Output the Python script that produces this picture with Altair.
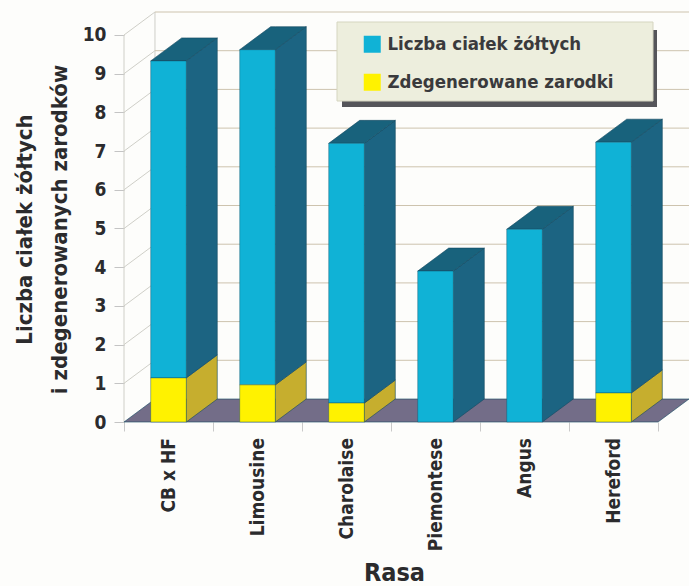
import altair as alt
import pandas as pd

# Breeds and the two stacked series (corpora lutea, degenerated embryos)
breeds = ["CB x HF", "Limousine", "Charolaise", "Piemontese", "Angus", "Hereford"]
totals = [9.33, 9.62, 7.2, 3.9, 4.98, 7.23]
degenerated = [1.14, 0.96, 0.49, 0.0, 0.0, 0.75]
series_names = ["Liczba ciałek żółtych", "Zdegenerowane zarodki"]
y_ticks = list(range(0, 11))

FONT = "DejaVu Sans Condensed, Roboto, sans-serif"
INK = "#2b2b2d"
CYAN, YELLOW = "#10b2d6", "#fff200"
SIDE_CYAN, SIDE_YELLOW = "#1c6482", "#c6ae2e"
TOP = "#18627c"
FLOOR = "#736d88"

# Oblique depth of the pseudo-3D box, in data units of each axis
DEPTH_X, DEPTH_Y = 0.348, 0.594
BAR_LEFT, BAR_WIDTH = 0.30, 0.40
X_MAX = len(breeds) + DEPTH_X
Y_MAX = 10 + DEPTH_Y

x_scale = alt.Scale(domain=[0, X_MAX], nice=False, zero=False)
y_scale = alt.Scale(domain=[0, Y_MAX], nice=False, zero=False)

x_axis = alt.Axis(
    values=list(range(len(breeds) + 1)), labels=False, grid=False, domain=False,
    tickSize=9, tickColor="#c9c9c9", titleFont=FONT, titleFontSize=25, titleFontWeight="bold",
    titleColor=INK, titleX=270, titleY=138)
y_axis = alt.Axis(
    values=y_ticks, grid=False, domain=False, tickSize=10, tickColor="#c4c4c4",
    labelFont=FONT, labelFontSize=19, labelFontWeight="bold", labelColor=INK, labelPadding=8,
    titleFont=FONT, titleFontSize=22, titleFontWeight="bold", titleColor=INK,
    titleLineHeight=35, titleX=-88, titleY=217, titleAngle=270)
y_title = ["Liczba ciałek żółtych", "i zdegenerowanych zarodków"]


def x_enc(field):
    return alt.X(field, scale=x_scale, axis=x_axis, title="Rasa")


def y_enc(field):
    return alt.Y(field, scale=y_scale, axis=y_axis, title=y_title)


def flat_face(left, right, level, key):
    """Horizontal parallelogram receding from the front edge at `level`."""
    return [
        {"key": key, "x": left, "lo": level, "hi": level},
        {"key": key, "x": left + DEPTH_X, "lo": level, "hi": level + DEPTH_Y},
        {"key": key, "x": right, "lo": level, "hi": level + DEPTH_Y},
        {"key": key, "x": right + DEPTH_X, "lo": level + DEPTH_Y, "hi": level + DEPTH_Y},
    ]


def side_face(right, low, high, key):
    """Receding right-hand face of a bar segment."""
    return [
        {"key": key, "x": right, "lo": low, "hi": high},
        {"key": key, "x": right + DEPTH_X, "lo": low + DEPTH_Y, "hi": high + DEPTH_Y},
    ]


front, sides_c, sides_y, tops, labels = [], [], [], [], []
for i, (name, total, low) in enumerate(zip(breeds, totals, degenerated)):
    left = i + BAR_LEFT
    right = left + BAR_WIDTH
    front.append({"x": left, "x2": right, "y": low, "y2": total, "s": series_names[0]})
    if low > 0:
        front.append({"x": left, "x2": right, "y": 0, "y2": low, "s": series_names[1]})
        sides_y += side_face(right, 0, low, i)
    sides_c += side_face(right, low, total, i)
    tops += flat_face(left, right, total, i)
    labels.append({"x": (left + right) / 2, "label": name})

floor_rows = flat_face(0, len(breeds), 0, 0)
wall_lines = []
for v in y_ticks[1:]:
    wall_lines += [{"v": v, "x": 0, "y": v}, {"v": v, "x": DEPTH_X, "y": v + DEPTH_Y}]
wall_lines += [{"v": 99, "x": 0, "y": 0}, {"v": 99, "x": 0, "y": 10},
               {"v": 98, "x": DEPTH_X, "y": DEPTH_Y}, {"v": 98, "x": DEPTH_X, "y": Y_MAX}]
back_lines = pd.DataFrame({"y": [v + DEPTH_Y for v in y_ticks[1:]]})
back_lines["x"], back_lines["x2"] = DEPTH_X, X_MAX


def faces(rows, color):
    return alt.Chart(pd.DataFrame(rows)).mark_area(
        color=color, stroke="#12485f", strokeWidth=0.6, interpolate="linear"
    ).encode(x=x_enc("x:Q"), y=y_enc("lo:Q"), y2="hi:Q", detail="key:N")


side_grid = alt.Chart(pd.DataFrame(wall_lines)).mark_line(color="#cfcfc8", strokeWidth=1).encode(
    x=x_enc("x:Q"), y=y_enc("y:Q"), detail="v:N",
)
back_grid = alt.Chart(back_lines).mark_rule(color="#cdc3ae", strokeWidth=1).encode(
    x=x_enc("x:Q"), x2="x2:Q", y=y_enc("y:Q"),
)

# Legend panel with its drop shadow, sitting behind the legend entries
anchor = alt.Chart(pd.DataFrame({"a": [0]}))
shadow = anchor.mark_rect(color="#55555a").encode(
    x=alt.value(218), x2=alt.value(533), y=alt.value(18), y2=alt.value(95))
panel = anchor.mark_rect(color="#edeedd", stroke="#d5d5c0", strokeWidth=1).encode(
    x=alt.value(213), x2=alt.value(529), y=alt.value(10), y2=alt.value(89))

front_faces = alt.Chart(pd.DataFrame(front)).mark_rect(stroke="#12485f", strokeWidth=0.4).encode(
    x=x_enc("x:Q"), x2="x2:Q", y=y_enc("y:Q"), y2="y2:Q",
    color=alt.Color("s:N", scale=alt.Scale(domain=series_names, range=[CYAN, YELLOW]), legend=alt.Legend(
        orient="none", legendX=239, legendY=23, title=None, symbolType="square", symbolSize=289,
        symbolStrokeWidth=0, labelFont=FONT, labelFontSize=18.5, labelFontWeight="bold", labelColor="#3a3a3c",
        labelOffset=6, rowPadding=19, labelLimit=300, padding=0)),
)

breed_labels = alt.Chart(pd.DataFrame(labels)).mark_text(
    angle=270, align="right", baseline="middle", font=FONT, fontSize=19, fontWeight="bold", color=INK, dx=-16
).encode(
    x=x_enc("x:Q"),
    y=alt.datum(0, scale=y_scale),
    text="label:N",
)

chart = alt.layer(
    side_grid, back_grid, shadow, panel,
    faces(floor_rows, FLOOR),
    faces(sides_y, SIDE_YELLOW), faces(sides_c, SIDE_CYAN), faces(tops, TOP),
    front_faces, breed_labels,
).properties(
    width=565, height=410, background="#fdfdfb",
    padding={"left": 124, "top": 12, "right": 0, "bottom": 164},
    autosize=alt.AutoSizeParams(type="none"),
).configure_view(stroke=None)

chart.save("out.html", embed_options={"renderer": "svg", "actions": False})
